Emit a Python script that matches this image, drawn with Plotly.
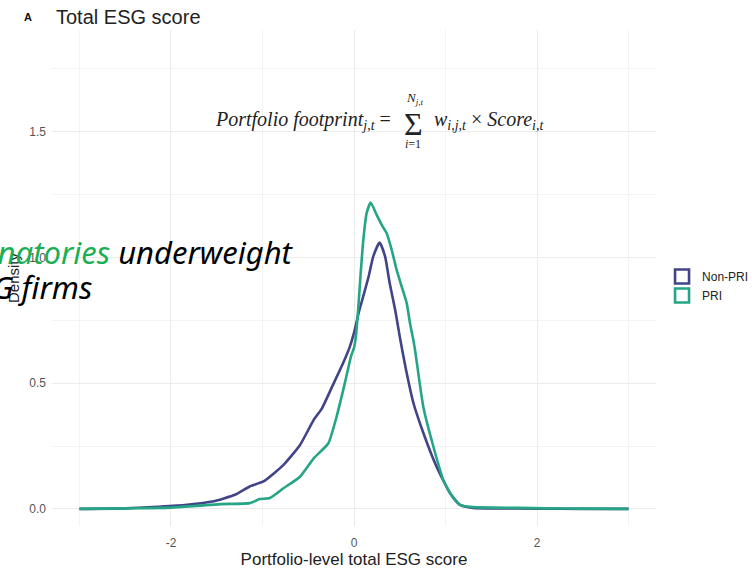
import plotly.graph_objects as go

# Density estimates of portfolio-level total ESG score
non_pri_x = [-3.0, -2.5, -2.2, -1.85, -1.55, -1.3, -1.14, -0.99, -0.77, -0.59, -0.44, -0.35,
             -0.23, -0.12, -0.05, 0.0, 0.05, 0.1, 0.16, 0.21, 0.28, 0.34, 0.39, 0.45, 0.5,
             0.57, 0.65, 0.76, 0.9, 1.05, 1.16, 1.3, 1.6, 2.0, 2.5, 3.0]
non_pri_y = [0.0, 0.002, 0.007, 0.015, 0.029, 0.056, 0.089, 0.109, 0.175, 0.254, 0.354, 0.40,
             0.493, 0.579, 0.64, 0.70, 0.778, 0.844, 0.924, 1.003, 1.059, 1.003, 0.897, 0.791, 0.685,
             0.55, 0.42, 0.30, 0.17, 0.062, 0.016, 0.004, 0.002, 0.001, 0.0, 0.0]

pri_x = [-3.0, -2.5, -2.0, -1.72, -1.46, -1.14, -1.03, -0.92, -0.77, -0.59, -0.44, -0.28,
         -0.19, -0.1, -0.03, 0.0, 0.022, 0.047, 0.073, 0.102, 0.138, 0.182, 0.248, 0.303,
         0.357, 0.412, 0.466, 0.521, 0.576, 0.612, 0.648, 0.667, 0.757, 0.867, 0.976, 1.085,
         1.158, 1.27, 1.5, 1.8, 2.1, 2.5, 3.0]
pri_y = [0.0, 0.002, 0.005, 0.012, 0.019, 0.023, 0.039, 0.043, 0.082, 0.128, 0.201, 0.261,
         0.367, 0.5, 0.61, 0.64, 0.69, 0.80, 0.937, 1.07, 1.176, 1.218, 1.169, 1.129,
         1.096, 1.03, 0.95, 0.884, 0.818, 0.738, 0.672, 0.632, 0.406, 0.248, 0.115, 0.043,
         0.016, 0.008, 0.005, 0.004, 0.002, 0.001, 0.0]

series_names = ["Non-PRI", "PRI"]
series_colors = ["#414487", "#25A585"]

x_ticks = [-2, 0, 2]
y_ticks = [0.0, 0.5, 1.0, 1.5]

fig = go.Figure()

for name, xs, ys, col in zip(series_names, [non_pri_x, pri_x], [non_pri_y, pri_y], series_colors):
    fig.add_trace(go.Scatter(x=xs, y=ys, mode="lines", name=name, showlegend=False,
                             line=dict(color=col, width=2.6, shape="spline", smoothing=0.5)))

# legend keys drawn as open squares
for name, col in zip(series_names, series_colors):
    fig.add_trace(go.Scatter(x=[None], y=[None], mode="markers", name=name,
                             marker=dict(symbol="square-open", size=14, color=col,
                                         line=dict(color=col, width=2.6))))

grid_major = "#EBEBEB"
grid_minor = "#F3F3F3"
sans = "Liberation Sans, Arial, sans-serif"
tick_font = dict(family=sans, size=12, color="#555555")

fig.update_xaxes(range=[-3.3, 3.3], tickvals=x_ticks, ticktext=[str(v) for v in x_ticks],
                 showgrid=True, gridcolor=grid_major, gridwidth=1, zeroline=False,
                 showline=False, ticks="", tickfont=tick_font, ticklabelstandoff=8,
                 automargin=False,
                 minor=dict(dtick=1, tick0=-3, showgrid=True, gridcolor=grid_minor, gridwidth=1),
                 title=dict(text="Portfolio-level total ESG score", standoff=4,
                            font=dict(family=sans, size=17, color="#222222")))
fig.update_yaxes(range=[-0.068, 1.904], tickvals=y_ticks, ticktext=["0.0", "0.5", "1.0", "1.5"],
                 showgrid=True, gridcolor=grid_major, gridwidth=1, zeroline=False,
                 showline=False, ticks="", tickfont=tick_font, ticklabelstandoff=5,
                 automargin=False,
                 minor=dict(dtick=0.25, tick0=0, showgrid=True, gridcolor=grid_minor, gridwidth=1),
                 title=dict(text="Density", standoff=6,
                            font=dict(family=sans, size=15, color="#222222")))

serif = "Liberation Serif, DejaVu Serif, serif"
annotations = [
    # panel header
    dict(text="<b>A</b>", xref="paper", yref="paper", x=-0.04, y=1.026, xanchor="center",
         yanchor="middle", showarrow=False, font=dict(family=sans, size=11, color="#111111")),
    dict(text="Total ESG score", xref="paper", yref="paper", x=0.003, y=1.026, xanchor="left",
         yanchor="middle", showarrow=False, font=dict(family=sans, size=20, color="#222222")),
    # footprint formula
    dict(text="<i>Portfolio footprint</i><sub><i>j,t</i></sub> =", x=0.43, y=1.545,
         xanchor="right", yanchor="middle", showarrow=False,
         font=dict(family=serif, size=20, color="#222222")),
    dict(text="Σ", x=0.645, y=1.53, xanchor="center", yanchor="middle", showarrow=False,
         font=dict(family=serif, size=32, color="#222222")),
    dict(text="<i>N</i><sub><i>j,t</i></sub>", x=0.665, y=1.63, xanchor="center", yanchor="middle",
         showarrow=False, font=dict(family=serif, size=13, color="#222222")),
    dict(text="<i>i</i>=1", x=0.645, y=1.45, xanchor="center", yanchor="middle",
         showarrow=False, font=dict(family=serif, size=12, color="#222222")),
    dict(text="<i>w</i><sub><i>i,j,t</i></sub> × <i>Score</i><sub><i>i,t</i></sub>", x=0.85, y=1.545,
         xanchor="left", yanchor="middle", showarrow=False,
         font=dict(family=serif, size=20, color="#222222")),
    # overlay message
    dict(text="<span style='color:#1AAF54'>Signatories</span> underweight", xref="paper", yref="paper",
         x=(296 - 52) / 604, y=(526 - 252) / 496, xanchor="right", yanchor="middle", showarrow=False,
         font=dict(family="Noto Sans, sans-serif", size=31, color="#000000", style="italic")),
    dict(text="low-ESG firms", xref="paper", yref="paper",
         x=(94 - 52) / 604, y=(526 - 287) / 496, xanchor="right", yanchor="middle", showarrow=False,
         font=dict(family="Noto Sans, sans-serif", size=31, color="#000000", style="italic")),
]
fig.update_layout(annotations=annotations)

fig.update_layout(
    width=752, height=571,
    margin=dict(l=52, r=96, t=30, b=45, autoexpand=False),
    paper_bgcolor="white", plot_bgcolor="white",
    legend=dict(x=0.01 + 1.0, y=0.484, xanchor="left", yanchor="middle",
                font=dict(family=sans, size=12, color="#222222"),
                itemwidth=30, tracegroupgap=0, bgcolor="rgba(0,0,0,0)"),
)

fig.write_html("out.html")
